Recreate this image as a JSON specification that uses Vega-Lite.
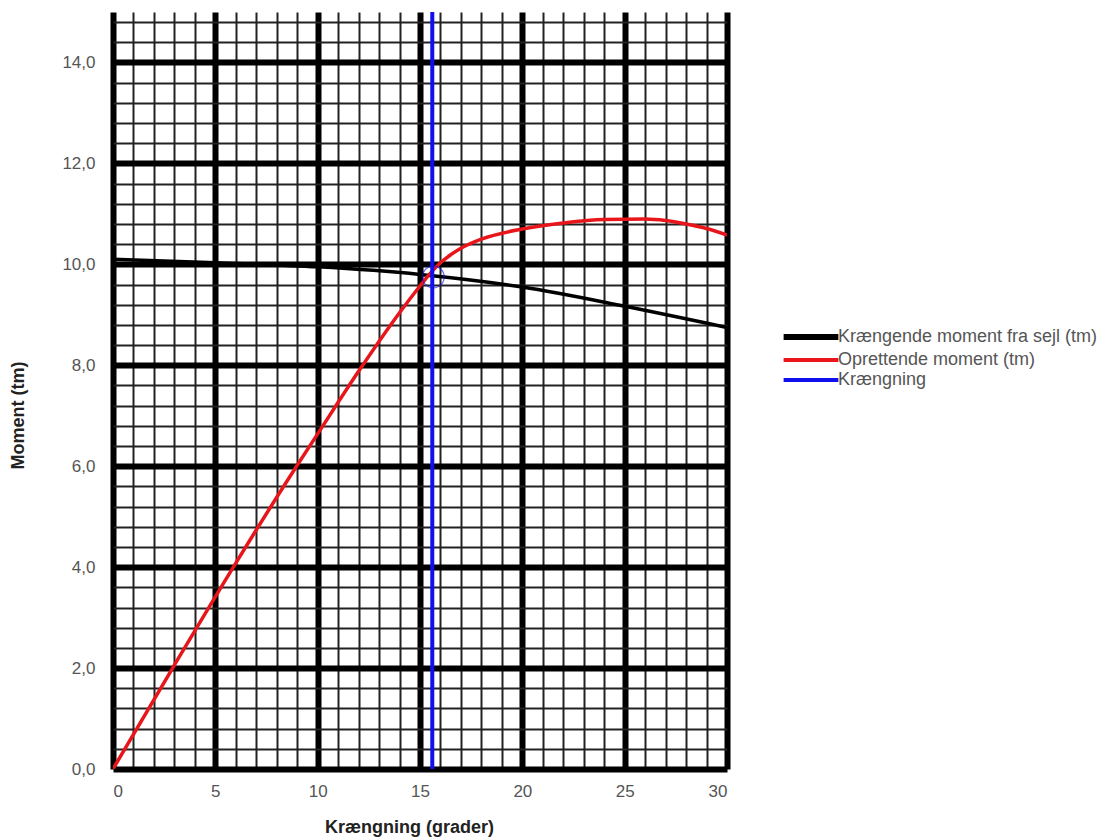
{
  "$schema": "https://vega.github.io/schema/vega-lite/v6.json",
  "autosize": {"type": "none"},
  "width": 614,
  "height": 757,
  "padding": {"left": 113, "top": 12, "right": 383, "bottom": 71},
  "background": "white",
  "config": {
    "view": {"stroke": null},
    "font": "Liberation Sans",
    "axis": {"labelFont": "Liberation Sans", "titleFont": "Liberation Sans"}
  },
  "datasets": {
    "series": [
      {"serie": "Krængende moment fra sejl (tm)", "x": 0, "y": 10.1},
      {"serie": "Krængende moment fra sejl (tm)", "x": 5, "y": 10.03},
      {"serie": "Krængende moment fra sejl (tm)", "x": 10, "y": 9.95},
      {"serie": "Krængende moment fra sejl (tm)", "x": 15, "y": 9.8},
      {"serie": "Krængende moment fra sejl (tm)", "x": 20, "y": 9.55},
      {"serie": "Krængende moment fra sejl (tm)", "x": 25, "y": 9.17},
      {"serie": "Krængende moment fra sejl (tm)", "x": 30, "y": 8.75},
      {"serie": "Oprettende moment (tm)", "x": 0, "y": 0},
      {"serie": "Oprettende moment (tm)", "x": 3, "y": 2.06},
      {"serie": "Oprettende moment (tm)", "x": 6, "y": 4.08},
      {"serie": "Oprettende moment (tm)", "x": 9, "y": 6.02},
      {"serie": "Oprettende moment (tm)", "x": 10, "y": 6.64},
      {"serie": "Oprettende moment (tm)", "x": 12, "y": 7.88},
      {"serie": "Oprettende moment (tm)", "x": 14, "y": 9.04},
      {"serie": "Oprettende moment (tm)", "x": 15, "y": 9.57},
      {"serie": "Oprettende moment (tm)", "x": 15.5, "y": 9.82},
      {"serie": "Oprettende moment (tm)", "x": 16, "y": 10.03},
      {"serie": "Oprettende moment (tm)", "x": 16.5, "y": 10.19},
      {"serie": "Oprettende moment (tm)", "x": 17, "y": 10.32},
      {"serie": "Oprettende moment (tm)", "x": 18, "y": 10.5},
      {"serie": "Oprettende moment (tm)", "x": 20, "y": 10.7},
      {"serie": "Oprettende moment (tm)", "x": 22, "y": 10.82},
      {"serie": "Oprettende moment (tm)", "x": 24, "y": 10.89},
      {"serie": "Oprettende moment (tm)", "x": 26, "y": 10.9},
      {"serie": "Oprettende moment (tm)", "x": 27, "y": 10.87},
      {"serie": "Oprettende moment (tm)", "x": 28, "y": 10.8},
      {"serie": "Oprettende moment (tm)", "x": 29, "y": 10.71},
      {"serie": "Oprettende moment (tm)", "x": 30, "y": 10.58},
      {"serie": "Krængning", "x": 15.6, "y": 0},
      {"serie": "Krængning", "x": 15.6, "y": 15}
    ],
    "marker": [
      {"serie": "Krængning", "x": 15.65, "y": 9.75}
    ]
  },
  "encoding": {
    "x": {
      "field": "x", "type": "quantitative",
      "scale": {"domain": [0, 30], "nice": false, "zero": false},
      "axis": {
        "title": "Krængning (grader)",
        "values": [0,1,2,3,4,5,6,7,8,9,10,11,12,13,14,15,16,17,18,19,20,21,22,23,24,25,26,27,28,29,30],
        "labelExpr": "datum.value % 5 === 0 ? datum.label : ''",
        "domain": false, "ticks": false,
        "grid": true,
        "gridColor": {"condition": {"test": "datum.value % 5 === 0", "value": "#000000"}, "value": "#222222"},
        "gridWidth": {"condition": {"test": "datum.value % 5 === 0", "value": 6}, "value": 2},
        "gridOpacity": 1,
        "labelFontSize": 17, "labelColor": "#555555", "labelPadding": 14,
        "titleFontSize": 18, "titleColor": "#222222", "titleFontWeight": "bold",
        "titleX": 296, "titleY": 49, "titleAnchor": null, "titleAlign": "center", "titleBaseline": "top"
      }
    },
    "y": {
      "field": "y", "type": "quantitative",
      "scale": {"domain": [0, 15], "nice": false, "zero": false},
      "axis": {
        "title": "Moment (tm)",
        "values": [0,0.4,0.8,1.2,1.6,2,2.4,2.8,3.2,3.6,4,4.4,4.8,5.2,5.6,6,6.4,6.8,7.2,7.6,8,8.4,8.8,9.2,9.6,10,10.4,10.8,11.2,11.6,12,12.4,12.8,13.2,13.6,14,14.4,14.8],
        "labelExpr": "abs(datum.value/2 - round(datum.value/2)) < 0.01 ? replace(format(datum.value, '.1f'), '.', ',') : ''",
        "domain": false, "ticks": false,
        "grid": true,
        "gridColor": {"condition": {"test": "abs(datum.value/2 - round(datum.value/2)) < 0.01", "value": "#000000"}, "value": "#222222"},
        "gridWidth": {"condition": {"test": "abs(datum.value/2 - round(datum.value/2)) < 0.01", "value": 6}, "value": 2},
        "gridOpacity": 1,
        "labelFontSize": 17, "labelColor": "#555555", "labelPadding": 18,
        "titleFontSize": 18, "titleColor": "#222222", "titleFontWeight": "bold",
        "titleX": -95, "titleY": 403, "titleAnchor": null, "titleAlign": "center", "titleBaseline": "middle", "titleAngle": -90
      }
    },
    "color": {
      "field": "serie", "type": "nominal",
      "scale": {
        "domain": ["Krængende moment fra sejl (tm)", "Oprettende moment (tm)", "Krængning"],
        "range": ["#000000", "#e8151b", "#1010ee"]
      },
      "legend": {
        "title": null,
        "orient": "none",
        "legendX": 689,
        "legendY": 316,
        "symbolType": "stroke",
        "symbolSize": 3000,
        "symbolStrokeWidth": 4,
        "labelFontSize": 18,
        "labelColor": "#555555",
        "labelFont": "Liberation Sans",
        "labelLimit": 400,
        "rowPadding": 2,
        "labelOffset": 18,
        "encode": {
          "symbols": {"update": {"strokeWidth": {"signal": "datum.value === 'Krængende moment fra sejl (tm)' ? 6 : 4"}}}
        }
      }
    }
  },
  "layer": [
    {
      "data": {"name": "series"},
      "transform": [{"filter": "datum.serie === 'Krængende moment fra sejl (tm)'"}],
      "mark": {"type": "line", "strokeWidth": 3.5, "interpolate": "monotone", "clip": true}
    },
    {
      "data": {"name": "series"},
      "transform": [{"filter": "datum.serie === 'Oprettende moment (tm)'"}],
      "mark": {"type": "line", "strokeWidth": 3.5, "interpolate": "monotone", "clip": true}
    },
    {
      "data": {"name": "series"},
      "transform": [{"filter": "datum.serie === 'Krængning'"}],
      "mark": {"type": "line", "strokeWidth": 4, "clip": true}
    },
    {
      "data": {"name": "marker"},
      "mark": {"type": "point", "shape": "circle", "filled": false, "size": 480, "strokeWidth": 1.2, "opacity": 0.6},
      "encoding": {"color": {"field": "serie", "type": "nominal", "legend": null}}
    }
  ]
}
